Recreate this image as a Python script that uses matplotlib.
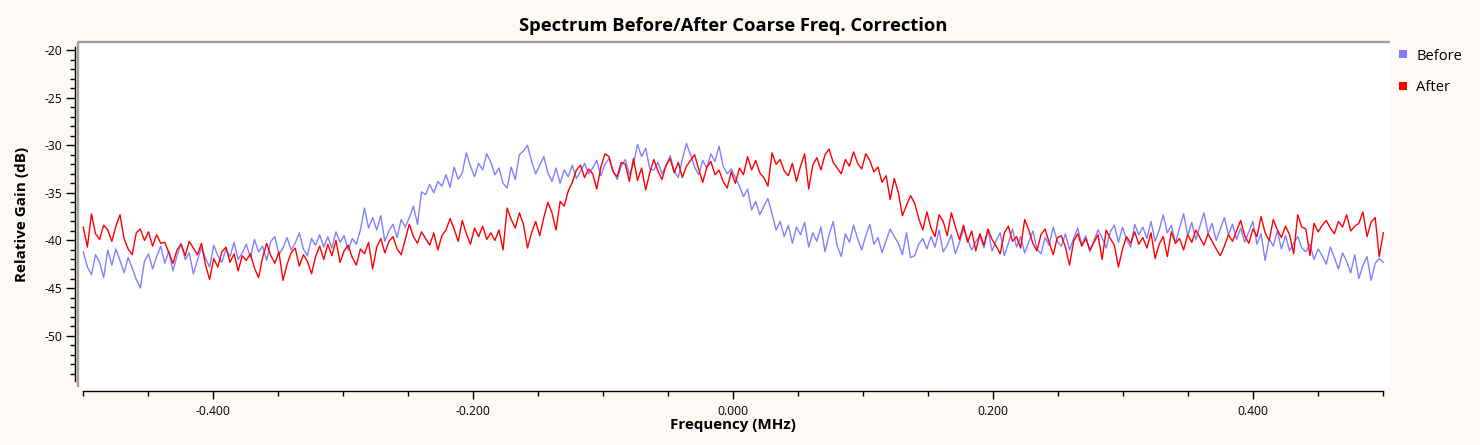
import numpy as np
import matplotlib
matplotlib.use("Agg")
import matplotlib.pyplot as plt
from matplotlib.ticker import FixedLocator, FormatStrFormatter
from matplotlib.lines import Line2D

# Spectrum (dB), 320 bins from -0.5 to 0.5 MHz
before_db = [
    -41.2, -42.8, -43.6, -41.5, -42.3, -43.9, -41.0, -42.6, -40.9, -42.1, -43.4, -41.8, -42.9, -44.1, -45.0, -42.2, -41.4, -43.0, -41.7, -40.6,
    -42.4, -41.1, -43.2, -41.6, -40.3, -42.0, -41.3, -43.5, -42.1, -40.7, -41.9, -42.8, -40.5, -41.6, -42.3, -40.9, -41.7, -40.2, -42.0, -41.3,
    -40.4, -41.8, -39.9, -41.2, -40.6, -42.1, -40.1, -39.6, -41.5, -40.8, -39.7, -41.0, -40.3, -39.2, -40.9, -41.6, -39.8, -40.5, -39.4, -40.7,
    -39.6, -40.8, -39.1, -40.2, -39.5, -41.0, -39.8, -40.4, -38.9, -36.6, -38.7, -37.6, -38.9, -37.4, -40.1, -39.0, -38.3, -39.7, -37.8, -38.6,
    -37.6, -36.4, -38.3, -34.9, -35.2, -34.1, -35.0, -33.8, -34.3, -33.1, -34.4, -32.3, -33.6, -32.9, -30.8, -32.2, -33.3, -31.9, -32.6, -30.9,
    -31.8, -33.1, -32.4, -34.0, -34.5, -32.3, -33.6, -31.0, -30.6, -30.0, -31.7, -33.0, -32.1, -31.2, -32.9, -33.8, -32.4, -34.0, -32.6, -33.3,
    -32.1, -33.5, -32.8, -31.9, -33.0, -32.4, -31.6, -33.2, -32.0, -31.4, -32.7, -33.6, -32.2, -31.5, -33.1, -32.0, -29.9, -31.2, -30.3, -32.5,
    -32.6, -31.8, -33.0, -32.2, -31.1, -32.7, -33.4, -31.5, -29.8, -31.0, -32.3, -33.1, -31.6, -32.4, -30.9, -31.7, -30.1, -32.2, -33.0, -32.5,
    -33.4, -34.3, -35.4, -34.6, -36.8, -35.9, -37.3, -36.4, -35.6, -37.2, -38.9, -38.0, -39.6, -38.4, -40.3, -38.6, -39.4, -38.1, -40.7, -39.2,
    -40.1, -38.6, -41.2, -39.4, -38.0, -40.6, -41.7, -39.3, -40.2, -38.4, -39.8, -41.0, -39.5, -38.3, -40.4, -39.7, -41.3, -40.0, -38.8, -39.6,
    -40.3, -41.5, -39.2, -41.8, -41.6, -40.4, -39.8, -40.9, -39.6, -40.7, -38.9, -41.2, -40.5, -39.4, -41.4, -40.2, -38.8, -39.9, -41.0, -40.1,
    -39.5, -40.8, -38.9, -41.1, -40.0, -39.2, -41.6, -40.3, -38.8, -40.7, -39.6, -41.3, -40.2, -39.0, -40.9, -41.4, -39.7, -40.5, -38.6, -40.1,
    -40.6, -39.3, -41.0, -39.8, -38.7, -40.4, -39.5, -41.2, -40.0, -38.9, -39.7, -40.8, -39.1, -38.4, -40.2, -38.6, -39.9, -40.7, -38.3, -39.4,
    -38.6, -39.8, -38.0, -40.1, -38.9, -37.3, -39.2, -38.4, -40.3, -38.7, -37.2, -39.5, -38.1, -39.9, -38.5, -37.1, -39.3, -38.2, -40.0, -38.8,
    -37.6, -39.4, -38.3, -39.9, -38.7, -40.2, -39.1, -38.0, -40.4, -39.3, -42.1, -39.8, -40.6, -39.0, -40.9, -39.5, -41.1, -40.3, -39.6, -40.8,
    -41.2, -40.4, -42.0, -40.9, -41.6, -42.5, -40.7, -41.8, -43.0, -41.3, -42.2, -43.4, -41.5, -44.0, -42.6, -41.7, -44.2, -42.4, -41.9, -42.3,
]

after_db = [
    -38.6, -40.7, -37.2, -39.3, -39.9, -38.4, -38.9, -40.1, -38.5, -37.3, -39.8, -40.9, -41.5, -39.2, -38.8, -40.0, -39.1, -40.6, -39.4, -40.3,
    -40.2, -41.3, -42.4, -41.0, -40.4, -41.6, -40.1, -40.8, -41.5, -40.3, -42.6, -44.1, -41.9, -42.8, -41.2, -40.7, -42.3, -41.4, -43.2, -41.6,
    -42.1, -41.4, -42.9, -43.9, -41.8, -40.3, -41.6, -42.4, -41.2, -44.2, -42.5, -41.3, -40.8, -42.7, -41.5, -42.2, -43.5, -41.7, -40.6, -42.0,
    -40.4, -41.6, -40.0, -42.3, -41.1, -40.5, -41.8, -42.6, -40.9, -41.4, -40.2, -43.0, -40.7, -39.8, -41.3, -40.1, -39.6, -40.9, -41.5, -39.9,
    -38.3, -39.6, -40.3, -39.1, -39.8, -40.5, -39.2, -41.0, -39.5, -38.9, -37.7, -38.8, -40.1, -37.9, -39.3, -40.4, -38.7, -39.6, -38.5, -39.9,
    -39.2, -40.0, -38.9, -41.0, -36.6, -37.8, -38.7, -37.1, -38.3, -40.8, -39.2, -38.0, -39.5, -37.6, -36.0, -37.1, -38.9, -35.9, -36.4, -34.8,
    -33.9, -32.6, -32.1, -33.4, -32.5, -33.0, -34.6, -32.3, -30.9, -31.2, -32.8, -33.3, -31.8, -32.0, -33.8, -31.4, -33.7, -32.4, -34.7, -32.9,
    -31.5, -32.7, -33.6, -32.1, -31.4, -32.9, -31.8, -33.4, -32.2, -31.6, -31.0, -32.5, -33.9, -32.3, -31.7, -33.1, -32.6, -33.8, -34.5, -32.8,
    -34.0, -32.4, -33.1, -31.2, -32.6, -31.6, -32.9, -33.4, -34.3, -30.8, -32.0, -31.5, -32.7, -33.2, -31.9, -33.8, -32.2, -30.9, -34.6, -32.1,
    -31.3, -32.6, -31.0, -30.4, -31.8, -32.4, -33.0, -31.5, -32.2, -30.7, -31.9, -32.5, -30.9, -31.6, -32.8, -32.3, -33.9, -33.2, -35.7, -33.5,
    -35.0, -37.4, -36.3, -35.3, -36.1, -37.7, -38.9, -37.0, -38.7, -39.6, -37.3, -38.0, -39.5, -37.1, -38.6, -39.9, -38.4, -40.2, -39.0, -41.1,
    -39.3, -40.5, -38.8, -39.9, -40.6, -41.4, -39.2, -38.5, -40.1, -39.6, -40.8, -37.8, -38.9, -40.3, -41.1, -39.4, -38.8, -40.2, -41.5, -39.7,
    -39.5, -40.7, -42.6, -40.1, -39.3, -40.6, -39.8, -41.0, -40.2, -39.4, -42.0, -38.9, -39.8, -40.5, -42.8, -40.9, -39.6, -40.3, -39.1, -40.4,
    -39.7, -40.8, -39.2, -41.9, -40.4, -39.6, -41.7, -39.1, -40.3, -39.8, -41.0, -39.4, -40.2, -38.9, -39.7, -40.5, -39.3, -40.1, -40.9, -41.6,
    -40.6, -39.4, -40.1, -39.0, -37.9, -39.5, -40.3, -38.8, -39.6, -37.5, -39.2, -40.0, -37.8, -38.9, -39.7, -38.5, -39.4, -41.4, -37.3, -38.6,
    -38.8, -41.6, -38.2, -39.1, -38.4, -37.9, -38.7, -39.3, -38.0, -38.6, -37.3, -39.0, -38.5, -38.2, -37.0, -39.6, -38.1, -37.6, -41.7, -39.2,
]

# bin centres, evenly spaced over the span
freq_mhz = np.linspace(-0.5, 0.5, len(before_db))

series_names = ["Before", "After"]
series_colors = ["#8080ff", "#ff0000"]

x_major = [-0.4, -0.2, 0.0, 0.2, 0.4]
y_major = [-50, -45, -40, -35, -30, -25, -20]

bg = "#fcf9f6"
plt.rcParams["font.family"] = ["Open Sans", "DejaVu Sans"]

fig = plt.figure(figsize=(14.8, 4.45), dpi=100, facecolor=bg)
ax = fig.add_axes([78 / 1480, 1 - 386.7 / 445, 1312 / 1480, 345 / 445])
ax.set_facecolor("white")

ax.plot(freq_mhz, before_db, color=series_colors[0], lw=1.0)
ax.plot(freq_mhz, after_db, color=series_colors[1], lw=1.0)

ax.set_xlim(-0.50408, 0.50515)
ax.set_ylim(-55.36, -19.13)

# qwt style: scales detached from canvas
for s in ["top", "right"]:
    ax.spines[s].set_visible(False)
ax.spines["bottom"].set_position(("outward", 2.9))
ax.spines["bottom"].set_bounds(-0.5, 0.5)
ax.spines["left"].set_position(("outward", 2.4))
ax.spines["left"].set_bounds(-54.75, -19.7)
for s in ["bottom", "left"]:
    ax.spines[s].set_linewidth(1.0)
    ax.spines[s].set_color("black")

# sunken canvas frame (top + left)
ax.plot([0, 0, 1], [0, 1, 1], transform=ax.transAxes, color="#a0a0a0",
        lw=1.7, clip_on=False, solid_capstyle="butt")

ax.xaxis.set_major_locator(FixedLocator(x_major))
ax.xaxis.set_minor_locator(FixedLocator(np.arange(-0.5, 0.5001, 0.05)))
ax.xaxis.set_major_formatter(FormatStrFormatter("%.3f"))
ax.yaxis.set_major_locator(FixedLocator(y_major))
ax.yaxis.set_minor_locator(FixedLocator(np.arange(-54, -19.5, 1)))
ax.yaxis.set_major_formatter(FormatStrFormatter("%d"))

ax.tick_params(axis="both", which="both", direction="out", width=1.0,
               labelsize=8.7)
ax.tick_params(axis="x", which="major", length=5.8, pad=4.5)
ax.tick_params(axis="x", which="minor", length=3.6)
ax.tick_params(axis="y", which="major", length=6.5, pad=2.2)
ax.tick_params(axis="y", which="minor", length=3.6)

fig.text(733 / 1480, 1 - 26 / 445, "Spectrum Before/After Coarse Freq. Correction",
         ha="center", va="center", fontsize=13.2, fontweight="bold")
fig.text(733 / 1480, 1 - 425 / 445, "Frequency (MHz)",
         ha="center", va="center", fontsize=10.9, fontweight="bold")
fig.text(22 / 1480, 1 - 214 / 445, "Relative Gain (dB)", rotation=90,
         ha="center", va="center", fontsize=11, fontweight="bold")

handles = [Line2D([], [], ls="none", marker="s", markersize=5.8,
                  color=c, markeredgewidth=0) for c in series_colors]
fig.legend(handles, series_names, loc="upper left",
           bbox_to_anchor=(1397 / 1480, 1 - 48.5 / 445), frameon=False,
           fontsize=10.6, handlelength=0.8, handletextpad=0.5,
           labelspacing=1.1, borderpad=0, borderaxespad=0)

fig.savefig("out.png", dpi=100, facecolor=bg)
